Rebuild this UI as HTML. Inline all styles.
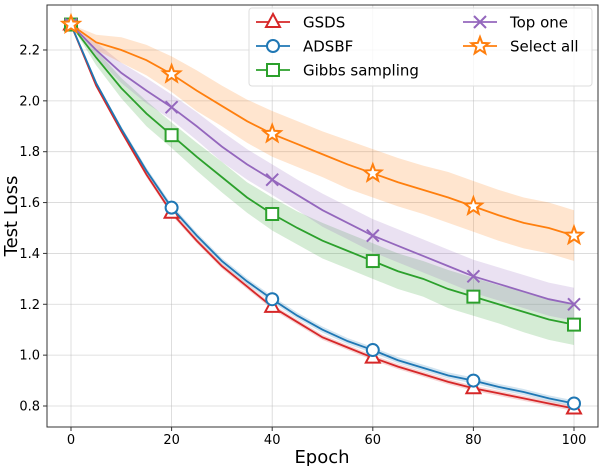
<!DOCTYPE html>
<html><head><meta charset="utf-8"><style>
body{margin:0;background:#fff}
svg{font-family:"DejaVu Sans","Liberation Sans",sans-serif}
</style></head><body>
<svg id="c" width="602" height="466" xmlns="http://www.w3.org/2000/svg"></svg>
<script>
const epochs=[0,5,10,15,20,25,30,35,40,45,50,55,60,65,70,75,80,85,90,95,100];
const gsds=[2.30,2.06,1.88,1.71,1.56,1.45,1.35,1.27,1.19,1.13,1.07,1.03,0.99,0.955,0.925,0.895,0.87,0.85,0.83,0.81,0.79];
const adsbf=[2.30,2.07,1.89,1.725,1.58,1.47,1.37,1.29,1.22,1.155,1.10,1.055,1.02,0.98,0.95,0.92,0.90,0.875,0.855,0.83,0.81];
const gibbs=[2.30,2.17,2.05,1.95,1.865,1.78,1.70,1.62,1.555,1.50,1.45,1.41,1.37,1.33,1.30,1.26,1.23,1.20,1.17,1.14,1.12];
const topOne=[2.30,2.20,2.11,2.04,1.975,1.90,1.82,1.75,1.69,1.63,1.57,1.52,1.47,1.43,1.39,1.35,1.31,1.28,1.25,1.22,1.20];
const selectAll=[2.30,2.23,2.20,2.16,2.105,2.04,1.98,1.92,1.87,1.83,1.79,1.75,1.715,1.68,1.65,1.62,1.585,1.55,1.52,1.50,1.47];
const gsdsStd=[0,0.005,0.008,0.01,0.01,0.01,0.01,0.01,0.01,0.01,0.01,0.01,0.01,0.01,0.01,0.01,0.01,0.01,0.01,0.01,0.01];
const adsbfStd=[0,0.006,0.01,0.012,0.012,0.012,0.012,0.012,0.012,0.012,0.012,0.012,0.012,0.012,0.012,0.012,0.012,0.012,0.012,0.012,0.012];
const gibbsStd=[0,0.03,0.04,0.05,0.05,0.055,0.06,0.06,0.065,0.065,0.07,0.07,0.07,0.07,0.07,0.075,0.075,0.075,0.08,0.08,0.08];
const topStd=[0,0.03,0.04,0.05,0.05,0.055,0.06,0.06,0.06,0.06,0.065,0.065,0.065,0.065,0.065,0.065,0.065,0.065,0.065,0.065,0.065];
const selStd=[0,0.03,0.05,0.06,0.07,0.08,0.08,0.085,0.09,0.09,0.09,0.095,0.095,0.095,0.095,0.1,0.1,0.1,0.1,0.1,0.1];
const xTicks=[0,20,40,60,80,100];
const yTicks=[0.8,1.0,1.2,1.4,1.6,1.8,2.0,2.2];
const NS="http://www.w3.org/2000/svg";
const svg=document.getElementById('c');
const L=47,R=598,T=5,B=427;
const X=v=>71+v*5.03;
const Y=v=>406-(v-0.8)*254.3;
function el(t,a,p){const e=document.createElementNS(NS,t);for(const k in a)e.setAttribute(k,a[k]);(p||svg).appendChild(e);return e;}
// grid
xTicks.forEach(t=>{
 const g=el('line',{x1:X(t),x2:X(t),y1:T,y2:B,stroke:'#b0b0b0','stroke-opacity':0.5,'stroke-width':0.8});
 
 
 el('line',{x1:X(t),x2:X(t),y1:B,y2:B+4,stroke:'#333'});
 const tx=el('text',{x:X(t),y:B+17,'text-anchor':'middle','font-size':13,fill:'#000'});tx.textContent=t;
 
 
});
yTicks.forEach(t=>{
 const g=el('line',{x1:L,x2:R,y1:Y(t),y2:Y(t),stroke:'#b0b0b0','stroke-opacity':0.5,'stroke-width':0.8});
 
 
 el('line',{x1:L-4,x2:L,y1:Y(t),y2:Y(t),stroke:'#333'});
 const tx=el('text',{x:L-7,y:Y(t)+4.5,'text-anchor':'end','font-size':13,fill:'#000'});tx.textContent=t.toFixed(1);
 
 
});
const series=[
 {n:'gsds',d:gsds,s:gsdsStd,c:'#d62728',m:'tri'},
 {n:'adsbf',d:adsbf,s:adsbfStd,c:'#1f77b4',m:'circ'},
 {n:'gibbs',d:gibbs,s:gibbsStd,c:'#2ca02c',m:'sq'},
 {n:'top-one',d:topOne,s:topStd,c:'#9467bd',m:'x'},
 {n:'select-all',d:selectAll,s:selStd,c:'#ff7f0e',m:'star'}];
function marker(m,x,y,c,g){
 if(m==='tri')el('polygon',{points:`${x},${y-8} ${x-7},${y+5} ${x+7},${y+5}`,fill:'#fff',stroke:c,'stroke-width':2},g);
 if(m==='circ')el('circle',{cx:x,cy:y,r:6,fill:'#fff',stroke:c,'stroke-width':2},g);
 if(m==='sq')el('rect',{x:x-6,y:y-6,width:12,height:12,fill:'#fff',stroke:c,'stroke-width':2},g);
 if(m==='x'){el('line',{x1:x-6,y1:y-6,x2:x+6,y2:y+6,stroke:c,'stroke-width':2},g);el('line',{x1:x-6,y1:y+6,x2:x+6,y2:y-6,stroke:c,'stroke-width':2},g);}
 if(m==='star'){let p=[];for(let i=0;i<10;i++){const r=i%2?3.8:9,a=-Math.PI/2+i*Math.PI/5;p.push((x+r*Math.cos(a)).toFixed(1)+','+(y+r*Math.sin(a)).toFixed(1));}
  el('polygon',{points:p.join(' '),fill:'#fff',stroke:c,'stroke-width':2},g);}
}
series.forEach(s=>{
 const up=epochs.map((e,i)=>X(e)+','+Y(s.d[i]+s.s[i]));
 const lo=epochs.map((e,i)=>X(e)+','+Y(s.d[i]-s.s[i])).reverse();
 const b=el('polygon',{points:up.concat(lo).join(' '),fill:s.c,'fill-opacity':0.2});
 
 
});
series.forEach(s=>{
 const g=el('g',{});
 
 
 el('polyline',{points:epochs.map((e,i)=>X(e)+','+Y(s.d[i])).join(' '),fill:'none',stroke:s.c,'stroke-width':1.8},g);
 epochs.forEach((e,i)=>{if(e%20===0)marker(s.m,X(e),Y(s.d[i]),s.c,g);});
});
el('rect',{x:L,y:T,width:R-L,height:B-T,fill:'none',stroke:'#333','stroke-width':1});
// legend
const lg=el('g',{});


el('rect',{x:249,y:8,width:343,height:78,rx:3,fill:'#fff','fill-opacity':0.8,stroke:'#ddd'},lg);
const leg=[['GSDS',0,256,22],['ADSBF',1,256,46],['Gibbs sampling',2,256,70],['Top one',3,463,22],['Select all',4,463,46]];
leg.forEach(([t,i,x,y])=>{
 const s=series[i];
 const g=el('g',{},lg);
 
 
 el('line',{x1:x,x2:x+34,y1:y,y2:y,stroke:s.c,'stroke-width':1.8},g);
 marker(s.m,x+17,y,s.c,g);
 const tx=el('text',{x:x+47,y:y+5.5,'font-size':15,fill:'#000'},g);tx.textContent=t;
});
const xt=el('text',{x:322,y:463,'text-anchor':'middle','font-size':18});xt.textContent='Epoch';


const yt=el('text',{x:0,y:0,'text-anchor':'middle','font-size':18,transform:'translate(17,216) rotate(-90)'});yt.textContent='Test Loss';


</script>
</body></html>
